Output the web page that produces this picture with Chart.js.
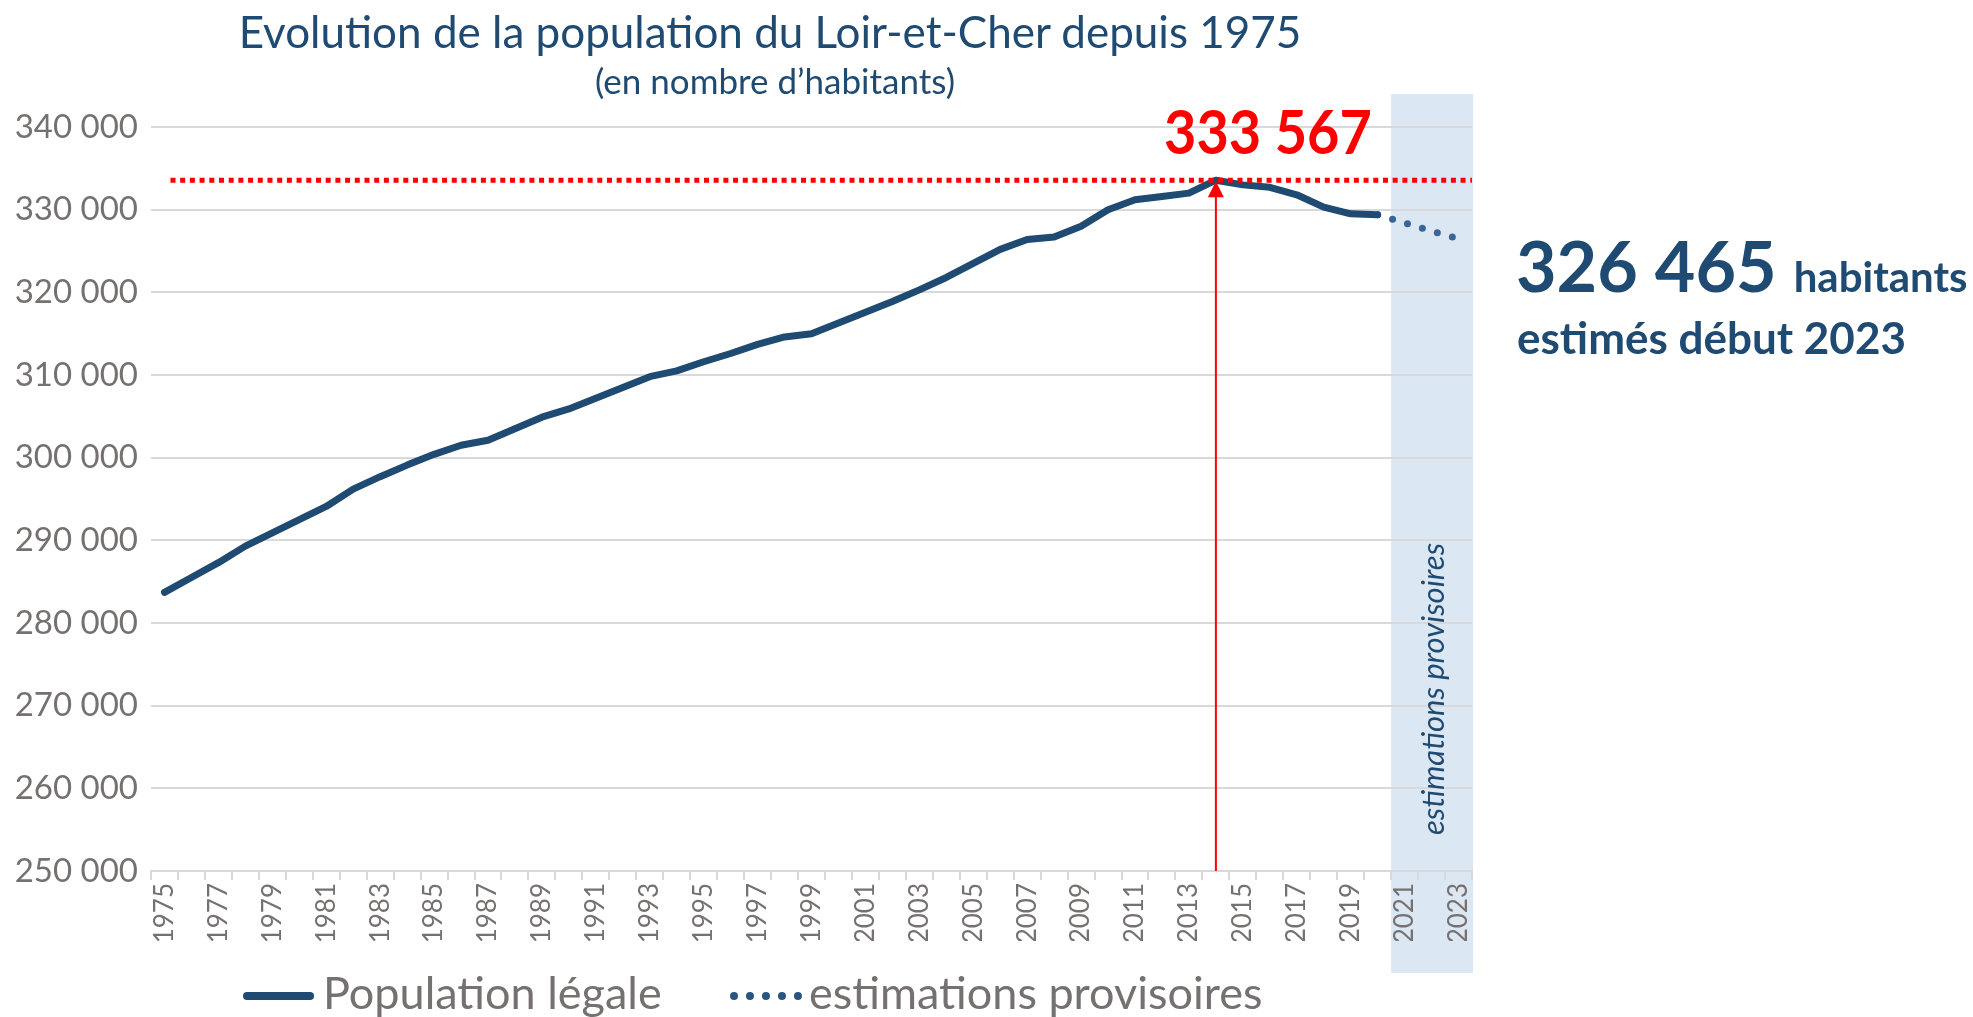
<!DOCTYPE html>
<html lang="fr">
<head>
<meta charset="utf-8">
<title>Population du Loir-et-Cher</title>
<script src="https://cdn.jsdelivr.net/npm/chart.js@4.4.1/dist/chart.umd.min.js"></script>
<style>
    html, body { margin: 0; padding: 0; background: #fff; overflow: hidden; }
    body { width: 1973px; height: 1017px; position: relative; font-family: Lato, "Open Sans", sans-serif; }
    #chart { position: absolute; left: 0; top: 0; }
    .txt { position: absolute; white-space: nowrap; line-height: 1; }
    .title { color: #1f4a72; text-align: center; width: 1400px; }
    .note { color: #1f4a72; font-weight: bold; }
    .legend { color: #767171; font-size: 45px; }
    .swatch { position: absolute; }
</style>
</head>
<body>
<canvas id="chart" width="1973" height="1017"></canvas>

<div class="txt title" style="left:70px; top:9px; font-size:44px;">Evolution de la population du Loir-et-Cher depuis 1975</div>
<div class="txt title" style="left:75px; top:63px; font-size:35px;">(en nombre d’habitants)</div>

<div class="txt note" style="left:1516px; top:230px; font-size:70px;">326 465 <span style="font-size:42px;">habitants</span></div>
<div class="txt note" style="left:1517px; top:315px; font-size:44px;">estimés début 2023</div>

<div class="swatch" style="left:243px; top:992px; width:71px; height:8px; background:#1f4a72; border-radius:4px;"></div>
<div class="txt legend" style="left:323px; top:970px;">Population légale</div>
<div class="swatch" style="left:730px; top:992px; width:72px; height:0; border-top:8px dotted #2a5580;"></div>
<div class="txt legend" style="left:809px; top:970px;">estimations provisoires</div>

<script>
// Data
const years = [1975, 1976, 1977, 1978, 1979, 1980, 1981, 1982, 1983, 1984,
               1985, 1986, 1987, 1988, 1989, 1990, 1991, 1992, 1993, 1994,
               1995, 1996, 1997, 1998, 1999, 2000, 2001, 2002, 2003, 2004,
               2005, 2006, 2007, 2008, 2009, 2010, 2011, 2012, 2013, 2014,
               2015, 2016, 2017, 2018, 2019, 2020, 2021, 2022, 2023];

// Population légale 1975-2020
const populationLegale = [283700, 285500, 287300, 289300, 290900, 292500, 294100, 296200, 297700, 299100,
                          300400, 301500, 302100, 303500, 304900, 305900, 307200, 308500, 309800, 310500,
                          311600, 312600, 313700, 314600, 315000, 316300, 317600, 318900, 320300, 321800,
                          323500, 325200, 326400, 326700, 328000, 330000, 331200, 331600, 332000, 333567,
                          333000, 332700, 331800, 330300, 329500, 329400, null, null, null];

// Estimations provisoires 2020-2023
const estimations = [null, null, null, null, null, null, null, null, null, null,
                     null, null, null, null, null, null, null, null, null, null,
                     null, null, null, null, null, null, null, null, null, null,
                     null, null, null, null, null, null, null, null, null, null,
                     null, null, null, null, null, 329400, 328400, 327400, 326465];

const yTicks = [250000, 260000, 270000, 280000, 290000, 300000, 310000, 320000, 330000, 340000];
const firstEstimateYear = 2021;

const colors = {
    navy: '#1f4a72',
    dots: '#3b6593',
    red: '#ff0000',
    grid: '#d9d9d9',
    text: '#767171',
    band: '#dce7f4'
};

function formatNumber(v) {
    return String(v).replace(/\B(?=(\d{3})+(?!\d))/g, ' ');
}

// Shaded band + peak annotations
const annotations = {
    id: 'annotations',
    beforeDraw(chart) {
        const { ctx, chartArea, scales: { x } } = chart;
        const step = x.getPixelForValue(1) - x.getPixelForValue(0);
        const left = x.getPixelForValue(years.indexOf(firstEstimateYear)) - step / 2;
        ctx.save();
        ctx.fillStyle = colors.band;
        ctx.fillRect(left, chartArea.top - 33, chartArea.right - left + 1, chartArea.bottom - chartArea.top + 135);
        ctx.restore();
    },
    afterDatasetsDraw(chart) {
        const { ctx, chartArea, scales: { x, y } } = chart;
        const peak = Math.max(...populationLegale.filter(v => v !== null));
        const peakIndex = populationLegale.indexOf(peak);
        const px = x.getPixelForValue(peakIndex);
        const py = y.getPixelForValue(peak);

        ctx.save();
        // horizontal dotted line at the peak
        ctx.strokeStyle = colors.red;
        ctx.lineWidth = 5;
        ctx.setLineDash([5, 4.7]);
        ctx.beginPath();
        ctx.moveTo(x.getPixelForValue(0) + 6, py);
        ctx.lineTo(chartArea.right, py);
        ctx.stroke();

        // vertical arrow
        ctx.setLineDash([]);
        ctx.lineWidth = 2;
        ctx.beginPath();
        ctx.moveTo(px, chartArea.bottom);
        ctx.lineTo(px, py + 14);
        ctx.stroke();
        ctx.fillStyle = colors.red;
        ctx.beginPath();
        ctx.moveTo(px, py + 1);
        ctx.lineTo(px - 8, py + 17);
        ctx.lineTo(px + 8, py + 17);
        ctx.closePath();
        ctx.fill();

        // peak label (slightly condensed)
        ctx.save();
        ctx.translate(px + 52, py - 26);
        ctx.scale(0.9, 1);
        ctx.font = 'bold 62px Lato';
        ctx.textAlign = 'center';
        ctx.textBaseline = 'alphabetic';
        ctx.fillText(formatNumber(peak), 0, 0);
        ctx.restore();

        // vertical italic label in the band
        const step = x.getPixelForValue(1) - x.getPixelForValue(0);
        const bandLeft = x.getPixelForValue(years.indexOf(firstEstimateYear)) - step / 2;
        ctx.translate((bandLeft + chartArea.right) / 2 + 2, 689);
        ctx.rotate(-Math.PI / 2);
        ctx.fillStyle = colors.navy;
        ctx.font = 'italic 31px Lato';
        ctx.textAlign = 'center';
        ctx.textBaseline = 'middle';
        ctx.fillText('estimations provisoires', 0, 0);
        ctx.restore();
    }
};

const ctx = document.getElementById('chart').getContext('2d');
new Chart(ctx, {
    type: 'line',
    data: {
        labels: years,
        datasets: [{
            label: 'Population légale',
            data: populationLegale,
            borderColor: colors.navy,
            borderWidth: 7,
            borderCapStyle: 'round',
            borderJoinStyle: 'round',
            pointRadius: 0,
            tension: 0,
            spanGaps: false
        }, {
            label: 'estimations provisoires',
            data: estimations,
            borderColor: colors.dots,
            borderWidth: 7,
            borderCapStyle: 'round',
            borderDash: [0, 15.6],
            pointRadius: 0,
            tension: 0
        }]
    },
    options: {
        responsive: false,
        animation: false,
        layout: {
            padding: { left: 0, top: 127, right: 501, bottom: 76 }
        },
        scales: {
            x: {
                offset: true,
                grid: {
                    offset: true,
                    drawOnChartArea: false,
                    color: colors.grid,
                    lineWidth: 2,
                    tickLength: 9
                },
                border: { color: colors.grid, width: 2 },
                ticks: {
                    autoSkip: false,
                    maxRotation: 90,
                    minRotation: 90,
                    padding: 3,
                    color: colors.text,
                    font: { family: 'Lato', size: 26 },
                    callback: function(value, index) {
                        return index % 2 === 0 ? years[index] : '';
                    }
                },
                afterFit: function(scale) { scale.height = 70; }
            },
            y: {
                min: yTicks[0],
                max: yTicks[yTicks.length - 1],
                afterBuildTicks: function(scale) {
                    scale.ticks = yTicks.map(v => ({ value: v }));
                },
                grid: {
                    color: colors.grid,
                    lineWidth: 2,
                    drawTicks: false
                },
                border: { display: false },
                ticks: {
                    padding: 13,
                    color: colors.text,
                    font: { family: 'Lato', size: 33 },
                    callback: function(value) { return formatNumber(value); }
                },
                afterFit: function(scale) { scale.width = 151; }
            }
        },
        plugins: {
            legend: { display: false },
            tooltip: { enabled: false }
        }
    },
    plugins: [annotations]
});
</script>
</body>
</html>
